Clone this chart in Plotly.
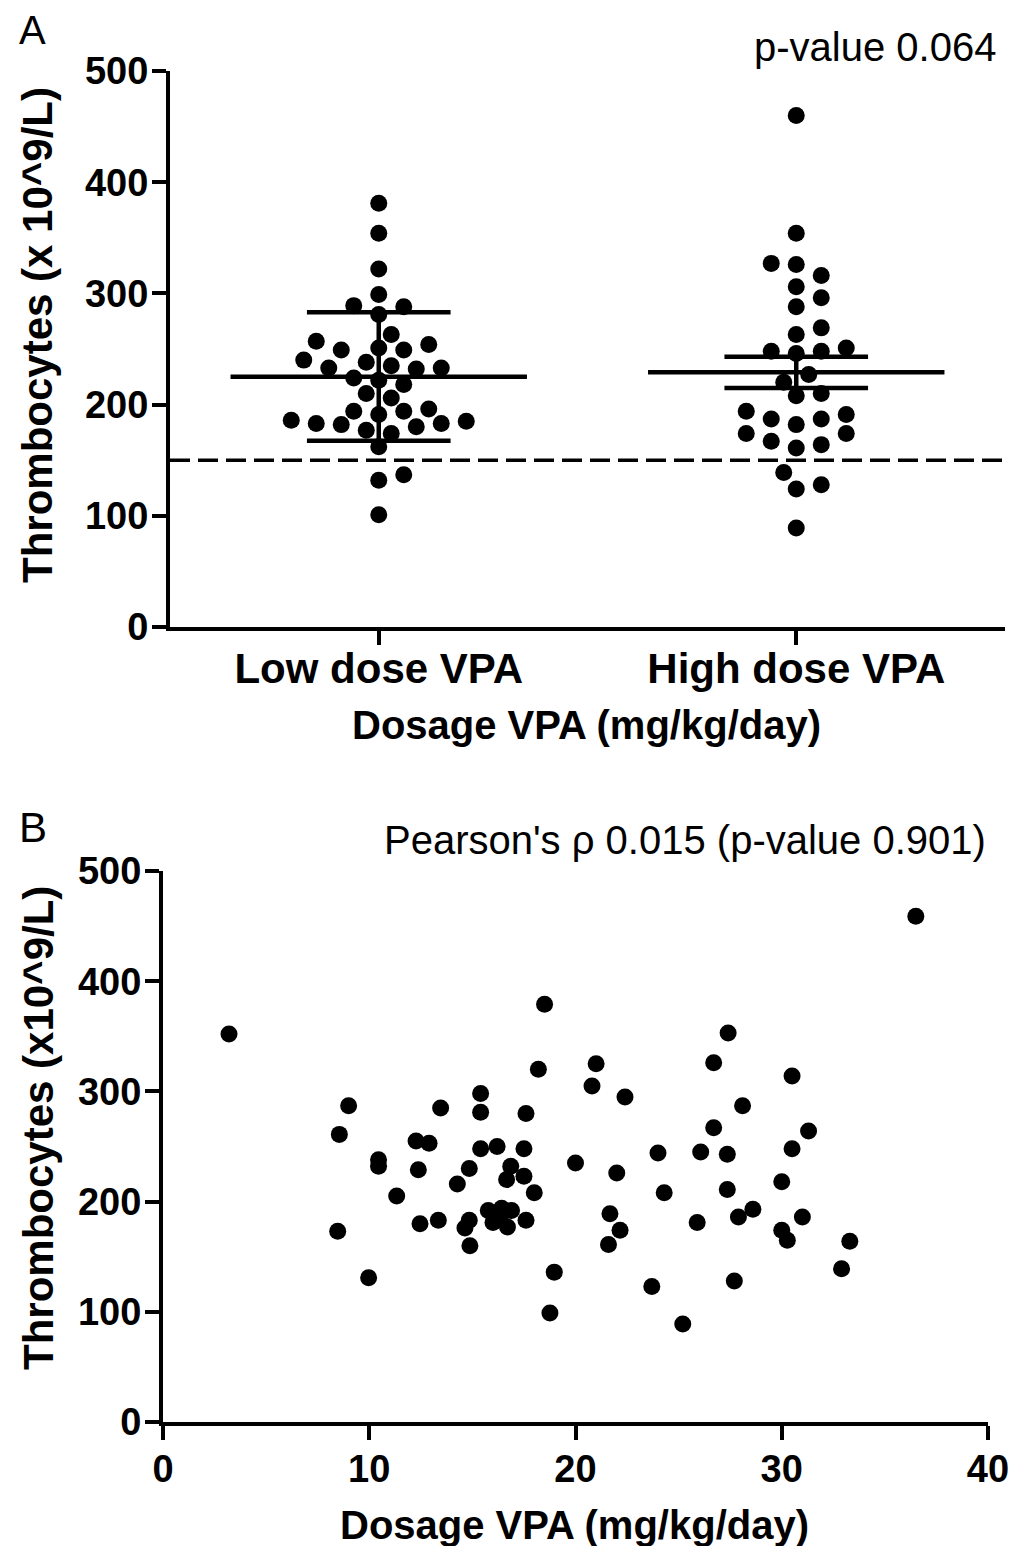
import numpy as np
import plotly.graph_objects as go

# ---------------- Data ----------------
categories = ["Low dose VPA", "High dose VPA"]

low_dose = [381, 354, 322, 299, 289, 288, 281, 263, 257, 251, 249, 254, 249, 240,
            238, 235, 233, 232, 233, 222, 218, 224, 210, 206, 196, 194, 191, 194,
            183, 183, 185, 186, 182, 180, 177, 174, 162, 137, 132, 101]
high_dose = [460, 354, 326, 327, 316, 306, 296, 288, 269, 263, 251, 248, 246, 248,
             227, 220, 210, 208, 194, 187, 187, 191, 182, 174, 174, 167, 164, 161,
             139, 128, 124, 89]

group_mean = [225, 229]
group_err_low = [167.5, 215]
group_err_high = [283, 243]
reference_level = 150

dosage = [3.2, 9.0, 8.55, 10.45, 10.45, 12.27, 12.9, 12.38, 11.33, 12.46, 13.35, 8.47,
          9.97, 18.5, 18.2, 21.0, 20.8, 22.4, 15.4, 15.4, 13.46, 17.6, 15.4, 16.2,
          17.5, 20.0, 14.85, 16.86, 14.27, 16.66, 17.5, 18.0, 22.0, 24.0, 24.3, 14.85,
          14.64, 14.88, 15.77, 16.42, 16.9, 16.0, 16.7, 16.34, 17.6, 21.67, 22.16, 21.6,
          18.97, 18.76, 23.7, 25.2, 36.5, 27.4, 26.7, 30.5, 28.1, 26.7, 31.3, 26.07,
          27.36, 30.5, 27.36, 30.0, 28.6, 27.9, 25.9, 31.0, 30.0, 30.27, 33.3, 32.9,
          27.7]
thrombocytes = [352, 287, 261, 238, 232, 255, 253, 229, 205, 180, 183, 173,
                131, 379, 320, 325, 305, 295, 298, 281, 285, 280, 248, 250,
                248, 235, 230, 232, 216, 220, 223, 208, 226, 244, 208, 183,
                176, 160, 192, 194, 192, 181, 177, 185, 183, 189, 174, 161,
                136, 99, 123, 89, 459, 353, 326, 314, 287, 267, 264, 245,
                243, 248, 211, 218, 193, 186, 181, 186, 174, 165, 164, 139,
                128]

yticks = [0, 100, 200, 300, 400, 500]
xticks_b = [0, 10, 20, 30, 40]

# ---------------- Geometry ----------------
W, H = 1025, 1546
OFF = 8  # page body margin in the browser
A_x0, A_x1, A_ytop, A_ybot = 170, 1005, 71, 627
B_x0, B_x1, B_ytop, B_ybot = 163, 988, 871, 1422

px_per_cat = (A_x1 - A_x0) / 2.0
px_per_unit_A = (A_ybot - A_ytop) / 500.0


def fx(x):
    return (x - OFF) / W


def fy(y):
    return 1 - (y - OFF) / H


def beeswarm(values, min_dist=18.0, step=12.5):
    vals = np.asarray(values, dtype=float)
    order = np.argsort(vals)
    placed = []
    offs = np.zeros(len(vals))
    cands = [0.0]
    for j in range(1, 40):
        cands += [j * step, -j * step]
    for i in order:
        y = vals[i] * px_per_unit_A
        for c in cands:
            if all((c - px) ** 2 + (y - py) ** 2 >= min_dist ** 2 for px, py in placed):
                offs[i] = c
                placed.append((c, y))
                break
    return offs / px_per_cat


fig = go.Figure()
black = "black"
fontR = "Liberation Sans, Arial, sans-serif"

# Panel A points
for gi, vals in enumerate([low_dose, high_dose]):
    xo = beeswarm(vals)
    fig.add_trace(go.Scatter(x=gi + xo, y=vals, mode="markers",
                             marker=dict(size=17, color=black),
                             xaxis="x", yaxis="y", showlegend=False, hoverinfo="y"))

# Reference dashed line
fig.add_trace(go.Scatter(x=[-0.5, 1.5], y=[reference_level, reference_level], mode="lines",
                         line=dict(color=black, width=3.5, dash="20px,8px"),
                         xaxis="x", yaxis="y", showlegend=False, hoverinfo="skip"))

# Mean and error bars
mean_hw, cap_hw = 0.355, 0.172
for gi in range(2):
    m, lo, hi = group_mean[gi], group_err_low[gi], group_err_high[gi]
    for xs, ys in [([gi - mean_hw, gi + mean_hw], [m, m]),
                   ([gi - cap_hw, gi + cap_hw], [lo, lo]),
                   ([gi - cap_hw, gi + cap_hw], [hi, hi]),
                   ([gi, gi], [lo, hi])]:
        fig.add_trace(go.Scatter(x=xs, y=ys, mode="lines", line=dict(color=black, width=4.5),
                                 xaxis="x", yaxis="y", showlegend=False, hoverinfo="skip"))

# Panel B
fig.add_trace(go.Scatter(x=dosage, y=thrombocytes, mode="markers",
                         marker=dict(size=17, color=black),
                         xaxis="x2", yaxis="y2", showlegend=False))

axis_common = dict(showline=True, linewidth=4, linecolor=black, showgrid=False,
                   zeroline=False, ticks="outside", ticklen=14, tickwidth=4, tickcolor=black,
                   automargin=False)

fig.update_layout(
    width=W, height=H, autosize=False,
    margin=dict(l=0, r=0, t=0, b=0, pad=0, autoexpand=False),
    plot_bgcolor="white", paper_bgcolor="white",
    font=dict(family=fontR, color=black),
    xaxis=dict(domain=[fx(A_x0), fx(A_x1)], range=[-0.5, 1.5], tickvals=[0, 1],
               ticktext=categories, anchor="y",
               tickfont=dict(size=42, weight="bold", family=fontR), ticklabelstandoff=-12,
               **axis_common),
    yaxis=dict(domain=[fy(A_ybot), fy(A_ytop)], range=[0, 500], tickvals=yticks,
               anchor="x", tickfont=dict(size=38, weight="bold", family=fontR),
               ticklabelstandoff=-4, **axis_common),
    xaxis2=dict(domain=[fx(B_x0), fx(B_x1)], range=[0, 40], tickvals=xticks_b, anchor="y2",
                tickfont=dict(size=38, weight="bold", family=fontR), ticklabelstandoff=-4,
                **axis_common),
    yaxis2=dict(domain=[fy(B_ybot), fy(B_ytop)], range=[0, 500], tickvals=yticks,
                anchor="x2", tickfont=dict(size=38, weight="bold", family=fontR),
                ticklabelstandoff=-4, **axis_common),
)


def ann(text, x, y, size, bold=False, xanchor="center", angle=0):
    fig.add_annotation(text=text, x=fx(x), y=fy(y), xref="paper", yref="paper",
                       xanchor=xanchor, yanchor="middle", showarrow=False, textangle=angle,
                       font=dict(size=size, family=fontR, color=black,
                                 weight="bold" if bold else "normal"))


ann("A", 17, 30, 40, xanchor="left")
ann("p-value 0.064", 998, 47, 40, xanchor="right")
ann("Thrombocytes (x 10^9/L)", 38, 335, 42, bold=True, angle=-90)
ann("Dosage VPA (mg/kg/day)", 586, 725, 40, bold=True)
ann("B", 17, 828, 42, xanchor="left")
ann("Pearson's ρ 0.015 (p-value 0.901)", 685, 840, 40)
ann("Thrombocytes (x10^9/L)", 38, 1128, 42, bold=True, angle=-90)
ann("Dosage VPA (mg/kg/day)", 574, 1525, 40, bold=True)

fig.write_html("out.html")
